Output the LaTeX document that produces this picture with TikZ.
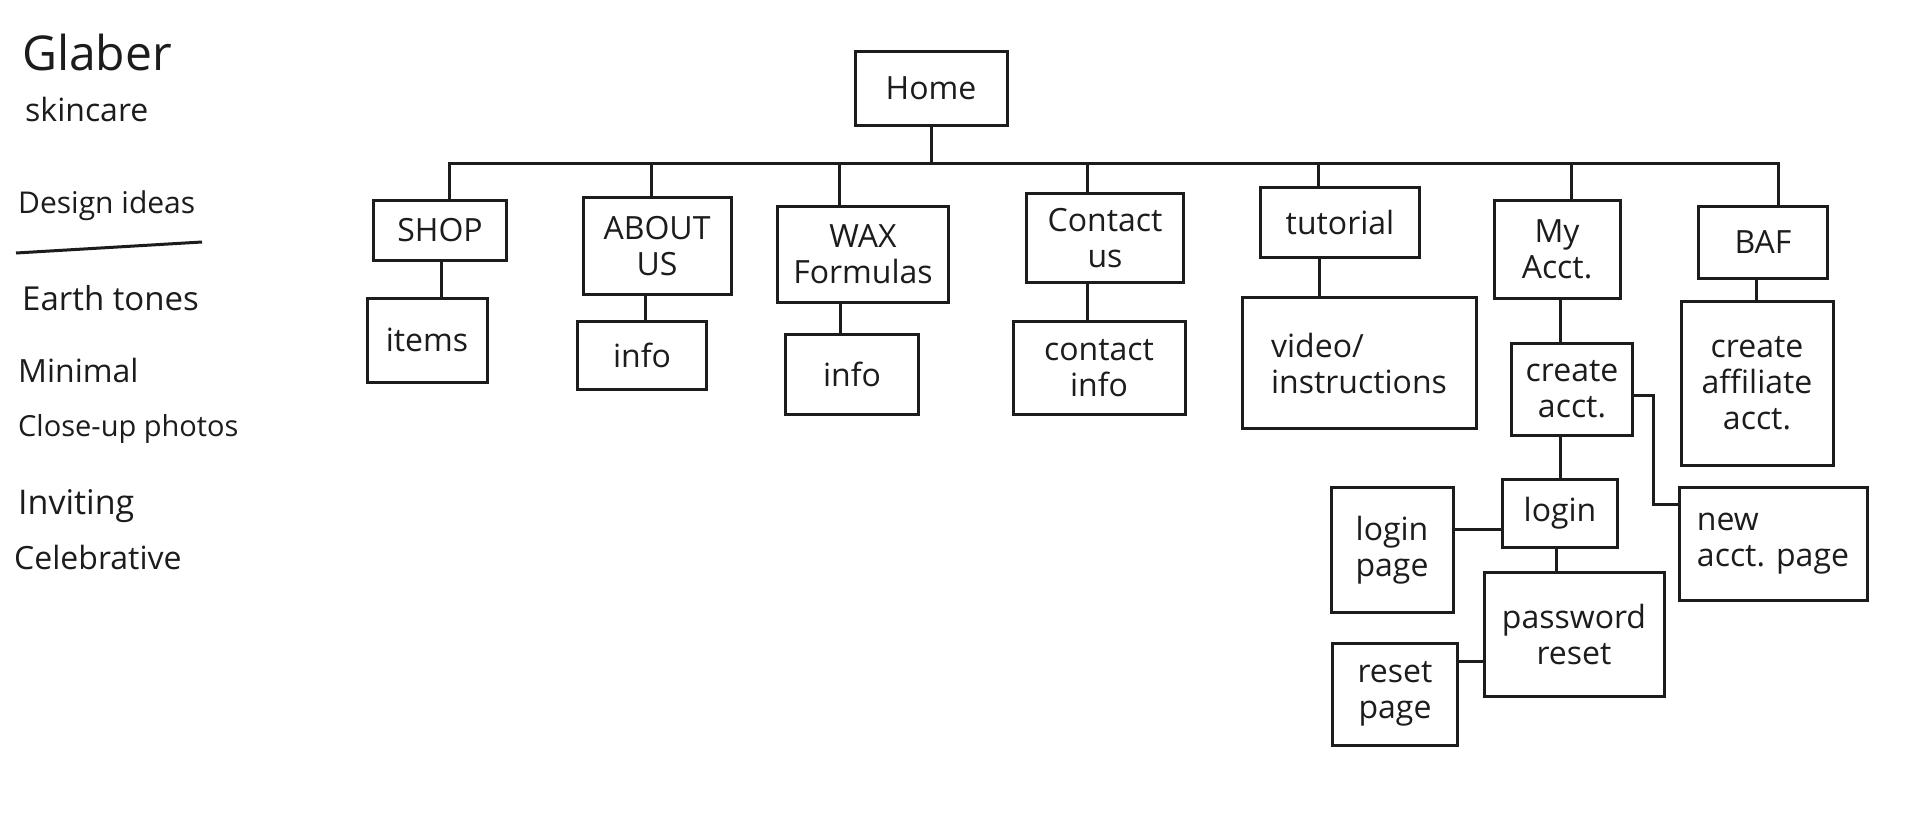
\documentclass[tikz,border=0pt]{standalone}
\usepackage{fontspec}
\setmainfont{Open Sans}
\definecolor{ink}{RGB}{28,28,28}
\begin{document}
\begin{tikzpicture}[x=1pt,y=-1pt,
  box/.style={draw=ink,line width=3pt,align=center,inner sep=2pt,text=ink,font=\fontsize{32}{36}\selectfont},
  wh/.style 2 args={minimum width=#1,minimum height=#2},
  lnk/.style={draw=ink,line width=3pt},
  note/.style={anchor=west,inner sep=0pt,text=ink}]
\fill[white] (0,0) rectangle (1920,825);
\useasboundingbox (0,0) rectangle (1920,825);
% left notes
\node[note,font=\fontsize{48}{52}\selectfont] (glaber) at (22,52) {Glaber};
\node[note,font=\fontsize{32}{36}\selectfont] (skin) at (25,109) {skincare};
\node[note,font=\fontsize{30}{34}\selectfont] (design) at (18,206) {Design ideas};
\node[note,font=\fontsize{33}{36}\selectfont] (earth) at (22,298) {Earth tones};
\node[note,font=\fontsize{32}{36}\selectfont] (minimal) at (18,370) {Minimal};
\node[note,font=\fontsize{29}{34}\selectfont] (close) at (18,429) {Close-up photos};
\node[note,font=\fontsize{34}{38}\selectfont] (inviting) at (18,506) {Inviting};
\node[note,font=\fontsize{32}{36}\selectfont] (celeb) at (14,557) {Celebrative};
\coordinate (u1) at (16,253);
\coordinate (u2) at (202,242);
\draw[lnk] (u1) -- (u2);
% boxes
\node[box,wh={152}{74}] (home) at (931,88) {Home};
\node[box,wh={133}{60}] (shop) at (440,230) {SHOP};
\node[box,wh={120}{84}] (items) at (427,340) {items};
\node[box,wh={148}{97}] (about) at (657,246) {ABOUT\\US};
\node[box,wh={129}{68}] (info1) at (642,355) {info};
\node[box,wh={171}{96}] (wax) at (863,254) {WAX\\Formulas};
\node[box,wh={133}{80}] (info2) at (852,374) {info};
\node[box,wh={157}{89}] (contact) at (1105,238) {Contact\\us};
\node[box,wh={172}{93}] (cinfo) at (1099,368) {contact\\info};
\node[box,wh={159}{70}] (tut) at (1340,222) {tutorial};
\node[box,wh={234}{131},align=left] (video) at (1359,363) {video/\\instructions};
\node[box,wh={126}{98}] (myacct) at (1557,249) {My\\Acct.};
\node[box,wh={129}{72}] (baf) at (1763,242) {BAF};
\node[box,wh={152}{164}] (caff) at (1757,383) {create\\affiliate\\acct.};
\node[box,wh={121}{92}] (cacct) at (1572,389) {create\\acct.};
\node[box,wh={115}{68}] (login) at (1560,513) {login};
\node[box,wh={122}{125}] (lpage) at (1392,550) {login\\page};
\node[box,wh={188}{113},align=left] (napage) at (1773,544) {new\\acct. page};
\node[box,wh={180}{124}] (pwreset) at (1574,634) {password\\reset};
\node[box,wh={125}{102}] (rpage) at (1395,694) {reset\\page};
% bus
\coordinate (busL) at (449,163);
\coordinate (busR) at (1778,163);
\draw[lnk] (busL |- shop.north) -- (busL) -- (busR) -- (busR |- baf.north);
\draw[lnk] (home.south) -- (home.south |- busL);
\foreach \n/\x in {about/651, wax/839, contact/1087, tut/1318, myacct/1571}{
  \coordinate (t\n) at (\x,163);
  \draw[lnk] (t\n) -- (t\n |- \n.north);
}
% child links
\foreach \a/\b/\x in {shop/items/441, about/info1/645, wax/info2/840, contact/cinfo/1087, tut/video/1319, myacct/cacct/1560, baf/caff/1756, cacct/login/1560, login/pwreset/1556}{
  \coordinate (c\a) at (\x,0);
  \draw[lnk] (c\a |- \a.south) -- (c\a |- \b.north);
}
\coordinate (hl) at (0,529);
\draw[lnk] (login.west |- hl) -- (lpage.east |- hl);
\coordinate (hr) at (0,661);
\draw[lnk] (pwreset.west |- hr) -- (rpage.east |- hr);
\coordinate (e1) at (1653,395);
\coordinate (e2) at (1653,504);
\draw[lnk] (cacct.east |- e1) -- (e1) -- (e2) -- (napage.west |- e2);
\end{tikzpicture}
\end{document}
